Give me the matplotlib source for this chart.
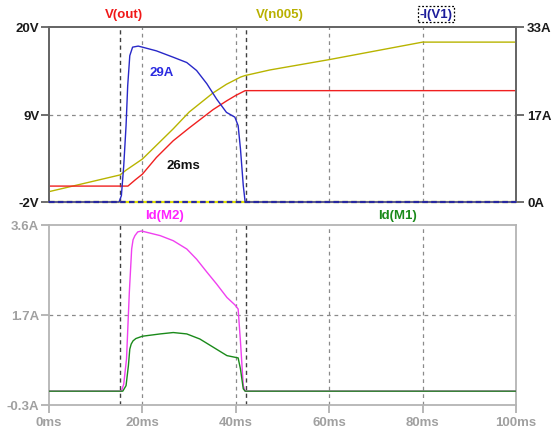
import matplotlib
matplotlib.use("Agg")
import matplotlib.pyplot as plt

# --- waveform data ---
t_out = [0, 16.9, 18.5, 20, 23, 26.6, 30, 35.1, 38, 40, 42, 100]
v_out = [0, 0, 0.8, 1.5, 3.6, 5.7, 7.3, 9.6, 10.7, 11.4, 12, 12]

t_n005 = [0, 15.2, 16.5, 20, 26.6, 30, 35.1, 38, 41, 42, 47.3, 60, 80, 100]
v_n005 = [-0.7, 1.4, 2.0, 3.4, 7.2, 9.3, 11.7, 12.8, 13.7, 13.9, 14.6, 15.9, 18.1, 18.1]

t_iv1 = [0, 15.0, 15.5, 16.0, 16.5, 16.85, 17.3, 17.9, 19.1, 20, 23, 26.6, 29.5, 31.6,
         33.8, 35.9, 38.0, 39.8, 40.5, 41.0, 41.6, 42.0, 100]
i_v1 = [0, 0, 1.2, 6.8, 14.4, 21.9, 27.6, 29.2, 29.4, 29.2, 28.5, 27.3, 26.3, 24.8,
        22.3, 19.4, 16.9, 16.0, 14.4, 10.0, 3.1, 0, 0]

t_m2 = [0, 15.5, 16.0, 16.6, 17.2, 17.7, 18.0, 18.4, 19.0, 19.8, 23.8, 26.6, 29.5, 31.6,
        33.8, 35.9, 38.1, 39.8, 40.5, 41.0, 41.6, 42.0, 100]
i_m2 = [0, 0, 0.15, 0.70, 2.14, 3.08, 3.28, 3.37, 3.45, 3.47, 3.37, 3.26, 3.08, 2.86,
        2.58, 2.32, 2.03, 1.87, 1.78, 1.07, 0.12, 0, 0]

t_m1 = [0, 15.8, 16.5, 17.0, 17.3, 17.6, 18.0, 18.6, 20, 23.8, 26.6, 29.5, 32.3, 35.2,
        38.1, 40.5, 41.0, 41.6, 42.0, 100]
i_m1 = [0, 0, 0.12, 0.55, 0.91, 1.02, 1.09, 1.14, 1.19, 1.24, 1.27, 1.24, 1.13, 0.95,
        0.77, 0.72, 0.48, 0.05, 0, 0]

x_ticks = [0, 20, 40, 60, 80, 100]
x_labels = ["0ms", "20ms", "40ms", "60ms", "80ms", "100ms"]
v_ticks = [-2, 9, 20]
v_labels = ["-2V", "9V", "20V"]
a_ticks = [0, 16.5, 33]
a_labels = ["0A", "17A", "33A"]
id_ticks = [-0.3, 1.65, 3.6]
id_labels = ["-0.3A", "1.7A", "3.6A"]
cursors = [15.2, 42.2]

plt.rcParams["font.family"] = ["Liberation Sans", "DejaVu Sans"]
plt.rcParams["font.weight"] = "bold"
FS = 9.5

W, H = 554, 431
fig = plt.figure(figsize=(W / 100, H / 100), dpi=100)
ax_top = fig.add_axes([49 / W, (H - 203) / H, 467 / W, 175 / H])
ax_bot = fig.add_axes([49 / W, (H - 406) / H, 467 / W, 180 / H])
ax_cur = ax_top.twinx()

grid_kw = dict(color="#8a8a8a", lw=0.9, dashes=(3, 3), zorder=1)
cur_kw = dict(color="#404040", lw=1.0, dashes=(3, 2.5), zorder=1)

# top panel: voltages on left, -I(V1) on right
ax_top.set_xlim(0, 100)
ax_top.set_ylim(-2, 20)
ax_cur.set_ylim(0, 33)
for gx in [20, 40, 60, 80]:
    ax_top.axvline(gx, **grid_kw)
ax_top.axhline(9, **grid_kw)
for cx in cursors:
    ax_top.axvline(cx, **cur_kw)
ax_top.plot(t_n005, v_n005, color="#b8b400", lw=1.0, zorder=3)
ax_top.plot(t_out, v_out, color="#f02020", lw=1.0, zorder=3)
ax_cur.plot([0, 100], [0, 0], color="#e0e000", lw=1.6, clip_on=False, zorder=2)
ax_cur.plot(t_iv1, i_v1, color="#2828c8", lw=1.0, clip_on=False, zorder=3)
ax_cur.plot([0, 100], [0, 0], color="#2828a0", lw=1.6, dashes=(2.5, 1.5), clip_on=False, zorder=3)

ax_top.set_xticks(x_ticks)
ax_top.set_xticklabels([])
ax_top.tick_params(axis="x", length=0)
ax_top.set_yticks(v_ticks)
ax_top.set_yticklabels(v_labels, fontsize=FS, fontweight="bold", color="#1a1a1a")
ax_top.tick_params(axis="y", length=6, width=1.2, color="#555555", pad=1)
ax_cur.set_yticks(a_ticks)
ax_cur.set_yticklabels(a_labels, fontsize=FS, fontweight="bold", color="#1a1a1a")
ax_cur.tick_params(axis="y", length=6, width=1.2, color="#555555", pad=2)
for a in (ax_top, ax_cur):
    for s in a.spines.values():
        s.set_color("#666666")
        s.set_linewidth(1.3)
    a.spines["bottom"].set_visible(False)

ax_top.text(0.16, 1.04, "V(out)", transform=ax_top.transAxes, ha="center", va="bottom",
            color="#f01818", fontsize=FS, fontweight="bold")
ax_top.text(0.495, 1.04, "V(n005)", transform=ax_top.transAxes, ha="center", va="bottom",
            color="#b8b000", fontsize=FS, fontweight="bold")
ax_top.text(0.829, 1.04, "-I(V1)", transform=ax_top.transAxes, ha="center", va="bottom",
            color="#1c1c9a", fontsize=FS, fontweight="bold",
            bbox=dict(boxstyle="square,pad=0.12", fc="white", ec="black", ls=(0, (1.5, 1.5)), lw=0.9))
ax_top.text(0.242, 0.745, "29A", transform=ax_top.transAxes, ha="center", va="center",
            color="#2a2ae0", fontsize=FS, fontweight="bold")
ax_top.text(0.287, 0.21, "26ms", transform=ax_top.transAxes, ha="center", va="center",
            color="#111111", fontsize=FS, fontweight="bold")

# bottom panel: MOSFET drain currents
ax_bot.set_xlim(0, 100)
ax_bot.set_ylim(-0.3, 3.6)
for gx in [20, 40, 60, 80]:
    ax_bot.axvline(gx, **grid_kw)
ax_bot.axhline(1.65, **grid_kw)
for cx in cursors:
    ax_bot.axvline(cx, **cur_kw)
ax_bot.plot(t_m2, i_m2, color="#f040f0", lw=1.0, zorder=3)
ax_bot.plot(t_m1, i_m1, color="#1a8a1a", lw=1.0, zorder=3)

ax_bot.set_xticks(x_ticks)
ax_bot.set_xticklabels(x_labels, fontsize=FS, fontweight="bold", color="#a0a0a0")
ax_bot.tick_params(axis="x", length=6, width=1.2, color="#aaaaaa", pad=2)
ax_bot.set_yticks(id_ticks)
ax_bot.set_yticklabels(id_labels, fontsize=FS, fontweight="bold", color="#a0a0a0")
ax_bot.tick_params(axis="y", length=6, width=1.2, color="#aaaaaa", pad=1)
for s in ax_bot.spines.values():
    s.set_color("#b4b4b4")
    s.set_linewidth(1.3)

ax_bot.text(0.248, 1.025, "Id(M2)", transform=ax_bot.transAxes, ha="center", va="bottom",
            color="#ff22ff", fontsize=FS, fontweight="bold")
ax_bot.text(0.747, 1.025, "Id(M1)", transform=ax_bot.transAxes, ha="center", va="bottom",
            color="#1a8a1a", fontsize=FS, fontweight="bold")

fig.savefig("out.png", dpi=100, facecolor="white")
